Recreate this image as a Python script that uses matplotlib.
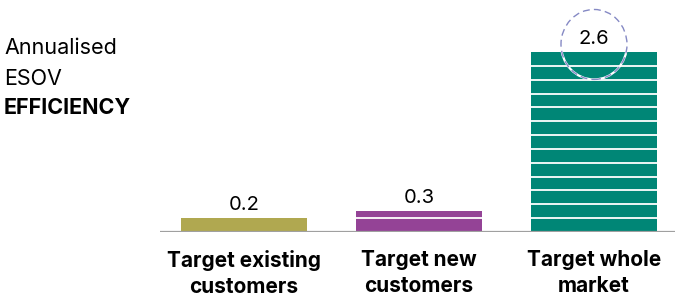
import matplotlib
matplotlib.use('Agg')
from matplotlib import pyplot as plt
from matplotlib.patches import Ellipse
import numpy as np

plt.rcParams['font.family'] = ['Inter', 'DejaVu Sans']

# Data
categories = ['Target existing\ncustomers', 'Target new\ncustomers', 'Target whole\nmarket']
values = [0.2, 0.3, 2.6]
labels = ['0.2', '0.3', '2.6']
colors = ['#b0a850', '#944396', '#008676']
step = 0.2  # white divider every 0.2 units

W, H = 675, 302
fig = plt.figure(figsize=(W / 100, H / 100), dpi=100)
ax = fig.add_axes([160 / W, 70 / H, 515 / W, 232 / H])

x = np.arange(len(values))
width = 0.72
ax.bar(x, values, width=width, color=colors, zorder=2)

# white divider lines inside bars
for xi, v in zip(x, values):
    levels = np.arange(step, v - 1e-6, step)
    ax.hlines(levels, xi - width / 2, xi + width / 2, color='white', lw=1.3, zorder=3)

# value labels
for xi, v, lab in zip(x, values, labels):
    ax.text(xi, v + 0.06, lab, ha='center', va='bottom', fontsize=14.5, zorder=5)

ax.axhline(0, color='#a0a0a0', lw=1.6, zorder=4)

ax.set_xlim(-0.48, 2.463)
ax.set_ylim(0, 232 / 69.2)

# highlight circle around top value
px = 69.2  # pixels per unit
rx = 33 / 175
ry = 35 / px
c_y = values[2] + 0.11
ax.add_patch(Ellipse((x[2], c_y), 2 * rx, 2 * ry, fill=False, ec='white', lw=1.6, zorder=6, clip_on=False))
ax.add_patch(Ellipse((x[2], c_y), 2 * rx, 2 * ry, fill=False, ec='#8589c4', lw=1.0,
                     ls=(0, (5, 3)), zorder=7, clip_on=False))

ax.set_xticks(x)
ax.set_xticklabels(categories, fontsize=15, fontweight='bold', linespacing=1.35)
ax.tick_params(axis='x', length=0, pad=13)
ax.set_yticks([])
for s in ax.spines.values():
    s.set_visible(False)

fig.text(4 / W, 1 - 48 / H, 'Annualised', fontsize=15.5, va='center', ha='left')
fig.text(4 / W, 1 - 79 / H, 'ESOV', fontsize=15.5, va='center', ha='left')
fig.text(4 / W, 1 - 108 / H, 'EFFICIENCY', fontsize=15.5, va='center', ha='left', fontweight='bold')

fig.savefig('out.png', dpi=100)
